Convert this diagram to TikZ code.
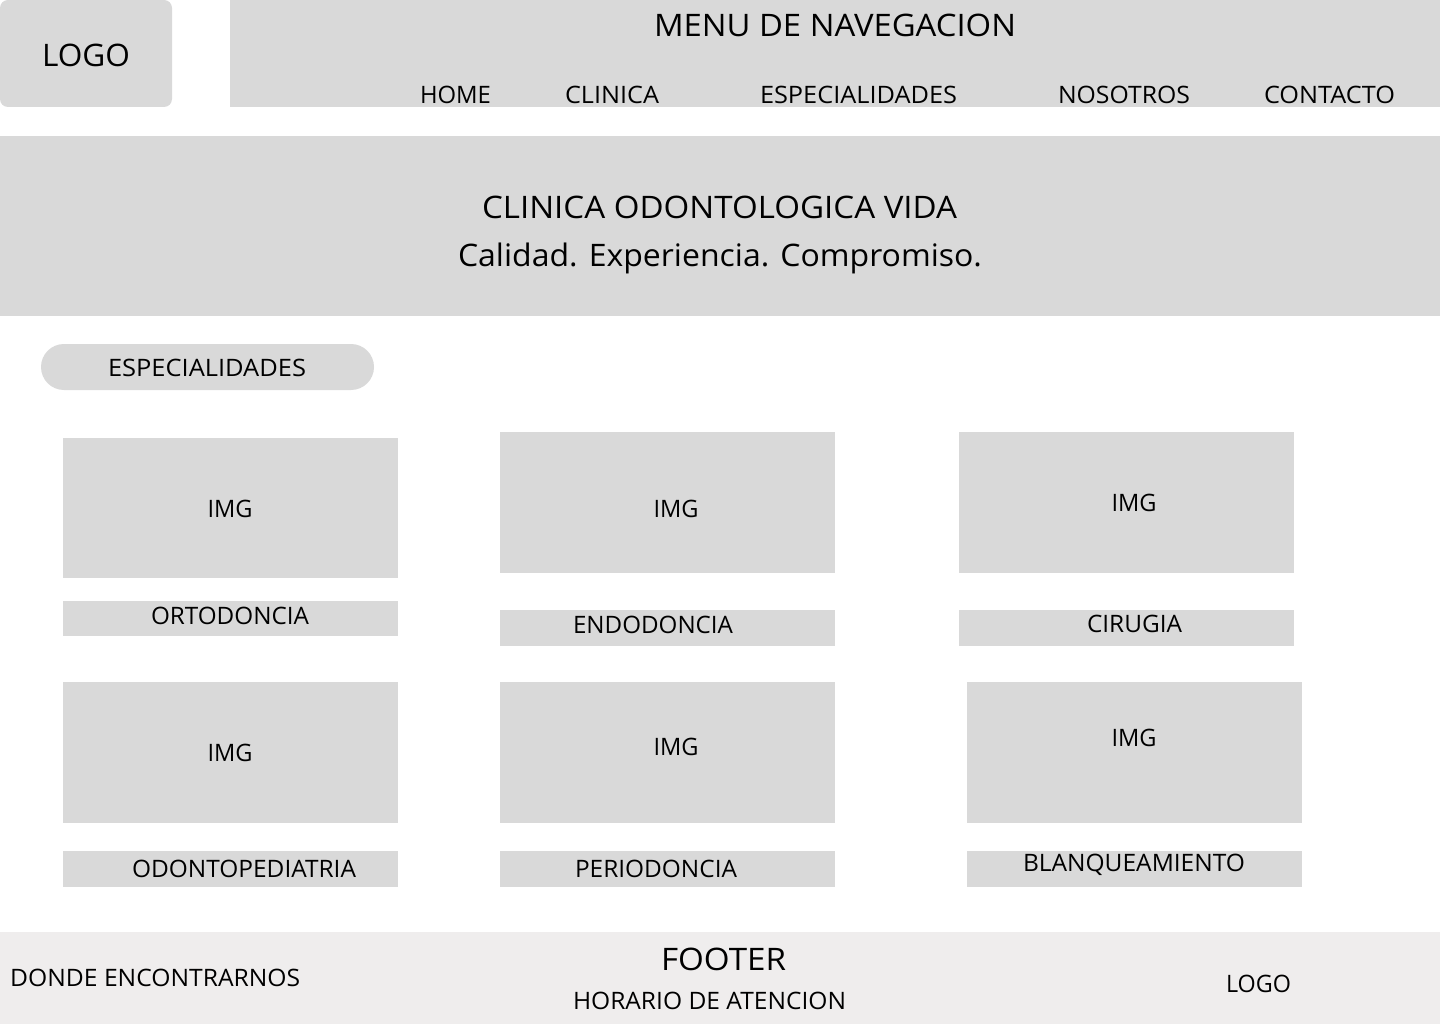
\documentclass[tikz,border=0pt]{standalone}
\usepackage{fontspec}
\setmainfont{Open Sans}
\usepackage{graphicx}
\definecolor{boxgray}{HTML}{D9D9D9}
\definecolor{footgray}{HTML}{EFEDED}
\newlength\fitlen
\newcommand\fitto[2]{\settowidth\fitlen{#2}\pgfmathsetmacro\fitsx{#1/\fitlen}\scalebox{\fitsx}[1]{#2}}
\tikzset{
  block/.style={fill=boxgray},
  big/.style={anchor=base,inner sep=0pt,font=\fontsize{31}{36}\selectfont},
  small/.style={anchor=base,inner sep=0pt,font=\fontsize{24}{28}\selectfont},
}
\begin{document}
\begin{tikzpicture}[x=1pt,y=-1pt]
\useasboundingbox (0,0) rectangle (1440,1024);
\fill[white] (0,0) rectangle (1440,1024);
% header
\fill[block,rounded corners=8pt] (0,0) rectangle (172,107);
\fill[block] (230,0) rectangle (1440,107);
\node[big] (logo) at (86,67) {\fitto{88}{LOGO}};
\node[big] (menu) at (835,36.5) {\fitto{362}{MENU DE NAVEGACION}};
\node[small] (home) at (455.5,104) {\fitto{71}{HOME}};
\node[small] (clinica) at (612,104) {\fitto{94}{CLINICA}};
\node[small] (esp) at (858.5,104) {\fitto{197}{ESPECIALIDADES}};
\node[small] (nos) at (1124,104) {\fitto{132}{NOSOTROS}};
\node[small] (cont) at (1329.5,104) {\fitto{131}{CONTACTO}};
% hero
\fill[block] (0,136) rectangle (1440,316);
\node[big] (title) at (719.5,219) {\fitto{475}{CLINICA ODONTOLOGICA VIDA}};
\node[big] (slogan) at (720,267) {\fitto{524}{Calidad. Experiencia. Compromiso.}};
% pill
\fill[block,rounded corners=23pt] (41,344) rectangle (374,390);
\node[small] (pill) at (207,376) {\fitto{198}{ESPECIALIDADES}};
% cards row 1
\fill[block] (63,438) rectangle (398,578);
\fill[block] (63,601) rectangle (398,636);
\node[small] (img1) at (230,517) {\fitto{45}{IMG}};
\node[small] (lab1) at (230,624.5) {\fitto{158}{ORTODONCIA}};
\fill[block] (500,432) rectangle (835,573);
\fill[block] (500,610) rectangle (835,646);
\node[small] (img2) at (676,517) {\fitto{45}{IMG}};
\node[small] (lab2) at (653,633.5) {\fitto{160}{ENDODONCIA}};
\fill[block] (959,432) rectangle (1294,573);
\fill[block] (959,610) rectangle (1294,646);
\node[small] (img3) at (1134,511) {\fitto{45}{IMG}};
\node[small] (lab3) at (1134.5,632.5) {\fitto{95}{CIRUGIA}};
% cards row 2
\fill[block] (63,682) rectangle (398,823);
\fill[block] (63,851) rectangle (398,887);
\node[small] (img4) at (230,761) {\fitto{45}{IMG}};
\node[small] (lab4) at (244,877.5) {\fitto{224}{ODONTOPEDIATRIA}};
\fill[block] (500,682) rectangle (835,823);
\fill[block] (500,851) rectangle (835,887);
\node[small] (img5) at (676,755) {\fitto{45}{IMG}};
\node[small] (lab5) at (656,877.5) {\fitto{162}{PERIODONCIA}};
\fill[block] (967,682) rectangle (1302,823);
\fill[block] (967,851) rectangle (1302,887);
\node[small] (img6) at (1134,746) {\fitto{45}{IMG}};
\node[small] (lab6) at (1134,871.5) {\fitto{222}{BLANQUEAMIENTO}};
% footer
\fill[footgray] (0,932) rectangle (1440,1024);
\node[big] (footer) at (723.5,970) {\fitto{125}{FOOTER}};
\node[small] (horario) at (709.5,1009) {\fitto{273}{HORARIO DE ATENCION}};
\node[small,anchor=base west] (donde) at (10,986) {\fitto{290}{DONDE ENCONTRARNOS}};
\node[small] (flogo) at (1258.5,992) {\fitto{65}{LOGO}};
\end{tikzpicture}
\end{document}
